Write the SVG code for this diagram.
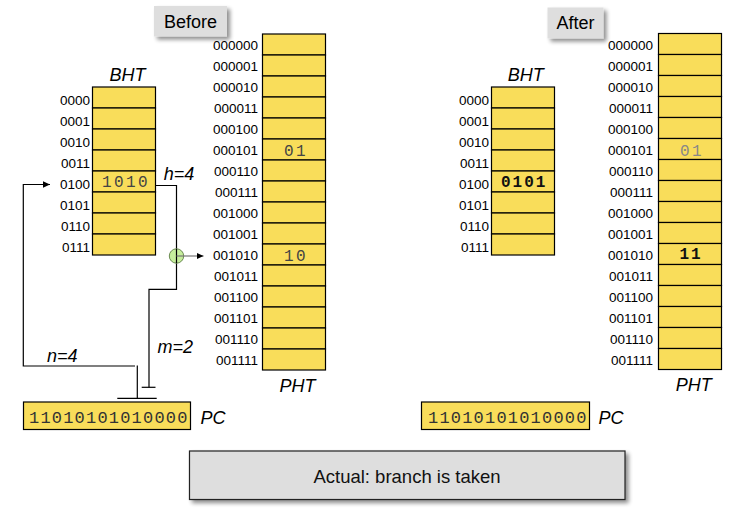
<svg xmlns="http://www.w3.org/2000/svg" width="735" height="512" viewBox="0 0 735 512">
<style>
.cell{fill:#f9dd5a;stroke:#000;stroke-width:1.2}
.lbl{font-family:"Liberation Sans",Arial,sans-serif;font-size:13.5px;fill:#000;text-anchor:end}
.ttl{font-family:"Liberation Sans",Arial,sans-serif;font-size:18px;font-style:italic;fill:#000;text-anchor:middle}
.val{font-family:"Liberation Mono","Courier New",monospace;font-size:16px;letter-spacing:2.4px;fill:#444}
.valb{font-family:"Liberation Mono","Courier New",monospace;font-size:16px;font-weight:bold;letter-spacing:2px;fill:#111}
.pc{font-family:"Liberation Mono","Courier New",monospace;font-size:17px;letter-spacing:1.2px;fill:#333}
.ln{fill:none;stroke:#000;stroke-width:1.2}
.btn{fill:#dedede}
.btnt{font-family:"Liberation Sans",Arial,sans-serif;font-size:18px;fill:#000;text-anchor:middle}
</style>
<defs>
<marker id="ah" markerWidth="8" markerHeight="8" refX="7" refY="4" orient="auto" markerUnits="userSpaceOnUse">
<path d="M0,0.8 L7,4 L0,7.2 Z" fill="#000"/>
</marker>
<filter id="sh" x="-20%" y="-20%" width="150%" height="160%">
<feGaussianBlur in="SourceAlpha" stdDeviation="2"/>
<feOffset dx="3" dy="3" result="b"/>
<feComponentTransfer><feFuncA type="linear" slope="0.45"/></feComponentTransfer>
<feMerge><feMergeNode/><feMergeNode in="SourceGraphic"/></feMerge>
</filter>
</defs>

<g id="before-label">
<rect class="btn" x="154" y="6" width="73" height="30.5" filter="url(#sh)"/>
<text class="btnt" x="190.5" y="28.3">Before</text>
</g>
<g id="after-label">
<rect class="btn" x="547.5" y="7.5" width="56" height="31" filter="url(#sh)"/>
<text class="btnt" x="575.5" y="29.3">After</text>
</g>

<g id="bht-before">
<text class="ttl" x="127.5" y="80.7">BHT</text>
<rect class="cell" x="92.5" y="87" width="63" height="21"/>
<rect class="cell" x="92.5" y="108" width="63" height="21"/>
<rect class="cell" x="92.5" y="129" width="63" height="21"/>
<rect class="cell" x="92.5" y="150" width="63" height="21"/>
<rect class="cell" x="92.5" y="171" width="63" height="21"/>
<rect class="cell" x="92.5" y="192" width="63" height="21"/>
<rect class="cell" x="92.5" y="213" width="63" height="21"/>
<rect class="cell" x="92.5" y="234" width="63" height="21"/>
<text class="lbl" x="90" y="105">0000</text>
<text class="lbl" x="90" y="126">0001</text>
<text class="lbl" x="90" y="147">0010</text>
<text class="lbl" x="90" y="168">0011</text>
<text class="lbl" x="90" y="189">0100</text>
<text class="lbl" x="90" y="210">0101</text>
<text class="lbl" x="90" y="231">0110</text>
<text class="lbl" x="90" y="252">0111</text>
<text class="val" x="102" y="187">1010</text>
</g>

<g id="pht-before">
<rect class="cell" x="262.5" y="34" width="63" height="21"/>
<rect class="cell" x="262.5" y="55" width="63" height="21"/>
<rect class="cell" x="262.5" y="76" width="63" height="21"/>
<rect class="cell" x="262.5" y="97" width="63" height="21"/>
<rect class="cell" x="262.5" y="118" width="63" height="21"/>
<rect class="cell" x="262.5" y="139" width="63" height="21"/>
<rect class="cell" x="262.5" y="160" width="63" height="21"/>
<rect class="cell" x="262.5" y="181" width="63" height="21"/>
<rect class="cell" x="262.5" y="202" width="63" height="21"/>
<rect class="cell" x="262.5" y="223" width="63" height="21"/>
<rect class="cell" x="262.5" y="244" width="63" height="21"/>
<rect class="cell" x="262.5" y="265" width="63" height="21"/>
<rect class="cell" x="262.5" y="286" width="63" height="21"/>
<rect class="cell" x="262.5" y="307" width="63" height="21"/>
<rect class="cell" x="262.5" y="328" width="63" height="21"/>
<rect class="cell" x="262.5" y="349" width="63" height="21"/>
<text class="lbl" x="258" y="50">000000</text>
<text class="lbl" x="258" y="71">000001</text>
<text class="lbl" x="258" y="92">000010</text>
<text class="lbl" x="258" y="113">000011</text>
<text class="lbl" x="258" y="134">000100</text>
<text class="lbl" x="258" y="155">000101</text>
<text class="lbl" x="258" y="176">000110</text>
<text class="lbl" x="258" y="197">000111</text>
<text class="lbl" x="258" y="218">001000</text>
<text class="lbl" x="258" y="239">001001</text>
<text class="lbl" x="258" y="260">001010</text>
<text class="lbl" x="258" y="281">001011</text>
<text class="lbl" x="258" y="302">001100</text>
<text class="lbl" x="258" y="323">001101</text>
<text class="lbl" x="258" y="344">001110</text>
<text class="lbl" x="258" y="365">001111</text>
<text class="val" x="284" y="156">01</text>
<text class="val" x="284" y="260.7">10</text>
<text class="ttl" x="297.5" y="391.7">PHT</text>
</g>

<g id="pc-before">
<rect class="cell" x="23.5" y="402" width="167" height="27.5"/>
<text class="pc" x="29" y="422.5">11010101010000</text>
<text class="ttl" x="213" y="424">PC</text>
</g>

<g id="bht-after">
<text class="ttl" x="525.8" y="80.7">BHT</text>
<rect class="cell" x="491.5" y="87" width="63" height="21"/>
<rect class="cell" x="491.5" y="108" width="63" height="21"/>
<rect class="cell" x="491.5" y="129" width="63" height="21"/>
<rect class="cell" x="491.5" y="150" width="63" height="21"/>
<rect class="cell" x="491.5" y="171" width="63" height="21"/>
<rect class="cell" x="491.5" y="192" width="63" height="21"/>
<rect class="cell" x="491.5" y="213" width="63" height="21"/>
<rect class="cell" x="491.5" y="234" width="63" height="21"/>
<text class="lbl" x="489" y="105">0000</text>
<text class="lbl" x="489" y="126">0001</text>
<text class="lbl" x="489" y="147">0010</text>
<text class="lbl" x="489" y="168">0011</text>
<text class="lbl" x="489" y="189">0100</text>
<text class="lbl" x="489" y="210">0101</text>
<text class="lbl" x="489" y="231">0110</text>
<text class="lbl" x="489" y="252">0111</text>
<text class="valb" x="501" y="186.7">0101</text>
</g>

<g id="pht-after">
<rect class="cell" x="658.5" y="33.5" width="63" height="21"/>
<rect class="cell" x="658.5" y="54.5" width="63" height="21"/>
<rect class="cell" x="658.5" y="75.5" width="63" height="21"/>
<rect class="cell" x="658.5" y="96.5" width="63" height="21"/>
<rect class="cell" x="658.5" y="117.5" width="63" height="21"/>
<rect class="cell" x="658.5" y="138.5" width="63" height="21"/>
<rect class="cell" x="658.5" y="159.5" width="63" height="21"/>
<rect class="cell" x="658.5" y="180.5" width="63" height="21"/>
<rect class="cell" x="658.5" y="201.5" width="63" height="21"/>
<rect class="cell" x="658.5" y="222.5" width="63" height="21"/>
<rect class="cell" x="658.5" y="243.5" width="63" height="21"/>
<rect class="cell" x="658.5" y="264.5" width="63" height="21"/>
<rect class="cell" x="658.5" y="285.5" width="63" height="21"/>
<rect class="cell" x="658.5" y="306.5" width="63" height="21"/>
<rect class="cell" x="658.5" y="327.5" width="63" height="21"/>
<rect class="cell" x="658.5" y="348.5" width="63" height="21"/>
<text class="lbl" x="653" y="50">000000</text>
<text class="lbl" x="653" y="71">000001</text>
<text class="lbl" x="653" y="92">000010</text>
<text class="lbl" x="653" y="113">000011</text>
<text class="lbl" x="653" y="134">000100</text>
<text class="lbl" x="653" y="155">000101</text>
<text class="lbl" x="653" y="176">000110</text>
<text class="lbl" x="653" y="197">000111</text>
<text class="lbl" x="653" y="218">001000</text>
<text class="lbl" x="653" y="239">001001</text>
<text class="lbl" x="653" y="260">001010</text>
<text class="lbl" x="653" y="281">001011</text>
<text class="lbl" x="653" y="302">001100</text>
<text class="lbl" x="653" y="323">001101</text>
<text class="lbl" x="653" y="344">001110</text>
<text class="lbl" x="653" y="365">001111</text>
<text class="val" x="680" y="155.5" style="fill:#888">01</text>
<text class="valb" x="679.5" y="259.3">11</text>
<text class="ttl" x="693.7" y="390.7">PHT</text>
</g>

<g id="pc-after">
<rect class="cell" x="421.5" y="402" width="168" height="27.5"/>
<text class="pc" x="428" y="422.5">11010101010000</text>
<text class="ttl" x="611" y="424">PC</text>
</g>

<g id="outcome">
<rect x="189.5" y="451" width="435.5" height="48.5" fill="#dedede" stroke="#222" stroke-width="1.2" filter="url(#sh)"/>
<text x="407" y="482.5" font-family="'Liberation Sans',Arial,sans-serif" font-size="18.5" text-anchor="middle" fill="#111">Actual: branch is taken</text>
</g>

<g id="connectors">
<polyline class="ln" points="135,366 23.3,366 23.3,184.5 50,184.5" marker-end="url(#ah)"/>
<line class="ln" x1="137.3" y1="365.5" x2="137.3" y2="398.3"/>
<line class="ln" x1="117.3" y1="398.3" x2="156.7" y2="398.3"/>
<polyline class="ln" points="155.5,185.5 176.5,185.5 176.5,289.3 149,289.3 149,387.3"/>
<line class="ln" x1="141.7" y1="387.3" x2="155.5" y2="387.3"/>
<circle cx="176.5" cy="256" r="7.2" fill="#c6ee9c" stroke="#6a8a50" stroke-width="1"/>
<line class="ln" x1="176.5" y1="248.8" x2="176.5" y2="263.2"/>
<line x1="176.5" y1="256" x2="203.5" y2="256" stroke="#777" stroke-width="1.2" marker-end="url(#ah)"/>
<text class="ttl" x="179" y="180" font-size="17">h=4</text>
<text class="ttl" x="175.3" y="352.7" font-size="17">m=2</text>
<text class="ttl" x="62.3" y="361.7" font-size="17">n=4</text>
</g>
</svg>
